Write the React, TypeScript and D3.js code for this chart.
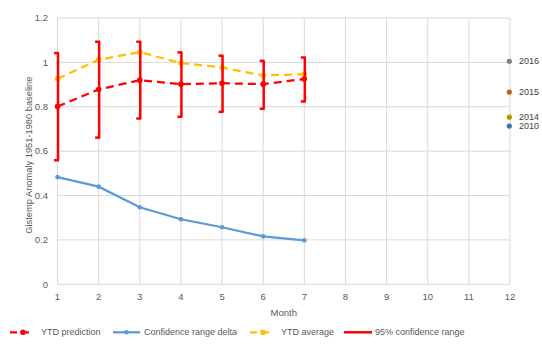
import React from "react";
import * as d3 from "d3";

const months = [1, 2, 3, 4, 5, 6, 7];
const ytdPrediction = [0.801, 0.878, 0.92, 0.902, 0.906, 0.902, 0.925];
const ytdAverage = [0.926, 1.012, 1.046, 0.997, 0.977, 0.941, 0.947];
const ciUpper = [1.042, 1.093, 1.093, 1.045, 1.03, 1.007, 1.022];
const ciLower = [0.559, 0.661, 0.747, 0.755, 0.777, 0.791, 0.824];
const confDelta = [0.483, 0.44, 0.347, 0.293, 0.257, 0.216, 0.198];
const refYears = ["2016", "2015", "2014", "2010"];
const refValues = [1.005, 0.866, 0.753, 0.713];
const refColors = ["#7f7f7f", "#c55a11", "#bf9000", "#2e75b6"];
const xTicks = [1, 2, 3, 4, 5, 6, 7, 8, 9, 10, 11, 12];
const yTicks = [0, 0.2, 0.4, 0.6, 0.8, 1, 1.2];
const yTickLabels = ["0", "0.2", "0.4", "0.6", "0.8", "1", "1.2"];

const W = 542;
const H = 349;
const FONT = "'Liberation Sans', Arial, sans-serif";
const TXT = "#595959";

export default function App() {
  const x = d3.scaleLinear().domain([1, 12]).range([57.5, 510]);
  const y = d3.scaleLinear().domain([0, 1.2]).range([284.3, 18]);
  const line = d3
    .line<number>()
    .x((_, i) => x(months[i]))
    .y((d) => y(d));

  return (
    <svg
      width={W}
      height={H}
      style={{ position: "absolute", left: 0, top: 0, background: "#fff" }}
      fontFamily={FONT}
    >
      {yTicks.map((t) => (
        <line key={"gy" + t} x1={x(1)} x2={x(12)} y1={y(t)} y2={y(t)} stroke="#d9d9d9" strokeWidth={1} />
      ))}
      {xTicks.map((t) => (
        <line key={"gx" + t} x1={x(t)} x2={x(t)} y1={y(0)} y2={y(1.2)} stroke="#d9d9d9" strokeWidth={1} />
      ))}
      {yTicks.map((t, i) => (
        <text key={"yl" + t} x={48} y={y(t)} dy="0.35em" textAnchor="end" fontSize={9.5} fill={TXT}>
          {yTickLabels[i]}
        </text>
      ))}
      {xTicks.map((t) => (
        <text key={"xl" + t} x={x(t)} y={297} dy="0.35em" textAnchor="middle" fontSize={9.5} fill={TXT}>
          {t}
        </text>
      ))}
      <text x={(x(1) + x(12)) / 2} y={313} dy="0.35em" textAnchor="middle" fontSize={9.5} fill={TXT}>
        Month
      </text>
      <text
        transform={`translate(29,${(y(0) + y(1.2)) / 2 + 4}) rotate(-90)`}
        dy="0.35em"
        textAnchor="middle"
        fontSize={9.3}
        fill={TXT}
      >
        Gistemp Anomaly 1951-1980 baseline
      </text>

      <path d={line(confDelta) || ""} fill="none" stroke="#5b9bd5" strokeWidth={2.25} />
      {confDelta.map((v, i) => (
        <circle key={"cd" + i} cx={x(months[i])} cy={y(v)} r={2.3} fill="#5b9bd5" />
      ))}

      <path d={line(ytdAverage) || ""} fill="none" stroke="#ffc000" strokeWidth={2.25} strokeDasharray="8,5" />
      {ytdAverage.map((v, i) => (
        <circle key={"ya" + i} cx={x(months[i])} cy={y(v)} r={2.8} fill="#ffc000" />
      ))}

      <path d={line(ytdPrediction) || ""} fill="none" stroke="#ff0000" strokeWidth={2.25} strokeDasharray="8,5" />
      {ytdPrediction.map((v, i) => (
        <circle key={"yp" + i} cx={x(months[i])} cy={y(v)} r={2.8} fill="#ff0000" />
      ))}

      {months.map((m, i) => {
        const cx = x(m) + 0.5;
        return (
          <g key={"eb" + i} stroke="#ff0000" strokeWidth={2.5} fill="none">
            <line x1={cx} x2={cx} y1={y(ciUpper[i])} y2={y(ciLower[i])} />
            <line x1={cx - 4} x2={cx + 1} y1={y(ciUpper[i])} y2={y(ciUpper[i])} />
            <line x1={cx - 4} x2={cx + 1} y1={y(ciLower[i])} y2={y(ciLower[i])} />
          </g>
        );
      })}

      {refYears.map((yr, i) => (
        <g key={"ref" + yr}>
          <circle cx={x(12) - 0.7} cy={y(refValues[i])} r={2.6} fill={refColors[i]} />
          <text x={519} y={y(refValues[i])} dy="0.35em" fontSize={9} fill="#404040">
            {yr}
          </text>
        </g>
      ))}

      <g transform="translate(0,332.3)">
        <line x1={10} x2={32} y1={0} y2={0} stroke="#ff0000" strokeWidth={2.25} strokeDasharray="7,5" />
        <circle cx={23} cy={0} r={2.8} fill="#ff0000" />
        <text x={41} y={0} dy="0.35em" fontSize={9} fill={TXT}>YTD prediction</text>

        <line x1={113} x2={140} y1={0} y2={0} stroke="#5b9bd5" strokeWidth={2.25} />
        <circle cx={126.5} cy={0} r={2.3} fill="#5b9bd5" />
        <text x={144} y={0} dy="0.35em" fontSize={9} fill={TXT}>Confidence range delta</text>

        <line x1={250} x2={272} y1={0} y2={0} stroke="#ffc000" strokeWidth={2.25} strokeDasharray="7,5" />
        <circle cx={263} cy={0} r={2.8} fill="#ffc000" />
        <text x={281} y={0} dy="0.35em" fontSize={9} fill={TXT}>YTD average</text>

        <line x1={344} x2={372} y1={0} y2={0} stroke="#ff0000" strokeWidth={2.5} />
        <text x={375} y={0} dy="0.35em" fontSize={9} fill={TXT}>95% confidence range</text>
      </g>
    </svg>
  );
}
